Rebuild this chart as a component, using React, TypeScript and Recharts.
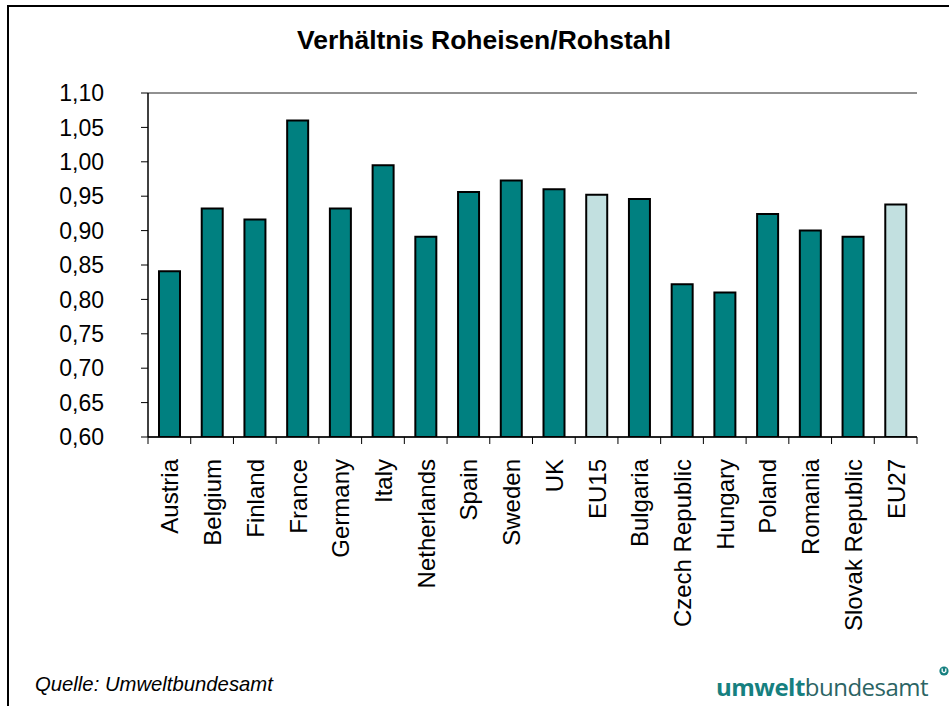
import React from "react";
import {
  BarChart, Bar, XAxis, YAxis, CartesianGrid, Cell,
} from "recharts";

const countries = [
  "Austria", "Belgium", "Finland", "France", "Germany", "Italy", "Netherlands",
  "Spain", "Sweden", "UK", "EU15", "Bulgaria", "Czech Republic", "Hungary",
  "Poland", "Romania", "Slovak Republic", "EU27",
];
const ratios = [
  0.841, 0.932, 0.916, 1.06, 0.932, 0.995, 0.891,
  0.956, 0.973, 0.96, 0.952, 0.946, 0.822, 0.81,
  0.924, 0.9, 0.891, 0.938,
];
const aggregates = ["EU15", "EU27"];
const yTicks = [0.6, 0.65, 0.7, 0.75, 0.8, 0.85, 0.9, 0.95, 1.0, 1.05, 1.1];

const data = countries.map((c, i) => ({ name: c, value: ratios[i] }));

const FONT = "'Liberation Sans', Arial, sans-serif";
const W = 949;
const H = 706;
const PLOT_LEFT = 148;
const PLOT_RIGHT = 917;
const PLOT_TOP = 93;
const PLOT_BOTTOM = 437;
const Y_AXIS_W = 80;
const X_AXIS_H = 230;
const halfBand = (PLOT_RIGHT - PLOT_LEFT) / countries.length / 2;

function CountryTick(props: any) {
  const { x, y, payload, index } = props;
  return (
    <g transform={`translate(${x},${y})`}>
      <line x1={-halfBand} y1={0} x2={-halfBand} y2={7} stroke="#000" strokeWidth={1} />
      {index === countries.length - 1 && (
        <line x1={halfBand} y1={0} x2={halfBand} y2={7} stroke="#000" strokeWidth={1} />
      )}
      <text
        transform="rotate(-90)"
        x={-22}
        y={9}
        textAnchor="end"
        fontFamily={FONT}
        fontSize={24}
        fill="#000"
      >
        {payload.value}
      </text>
    </g>
  );
}

export default function App() {
  return (
    <div style={{ position: "absolute", left: 0, top: 0, width: W, height: H, background: "#fff", overflow: "hidden" }}>
      <div
        style={{
          position: "absolute", left: 7, top: 5, width: W, height: H,
          borderLeft: "2px solid #000", borderTop: "2px solid #000",
        }}
      />
      <div
        style={{
          position: "absolute", left: 0, top: 25, width: 968, textAlign: "center",
          fontFamily: FONT, fontWeight: "bold", fontSize: 26.5, color: "#000",
        }}
      >
        Verhältnis Roheisen/Rohstahl
      </div>
      <div style={{ position: "absolute", left: 0, top: 0 }}>
        <BarChart
          width={W}
          height={H}
          data={data}
          barSize={21}
          margin={{
            top: PLOT_TOP,
            left: PLOT_LEFT - Y_AXIS_W,
            right: W - PLOT_RIGHT,
            bottom: H - PLOT_BOTTOM - X_AXIS_H,
          }}
        >
          <CartesianGrid vertical={false} stroke="#222" strokeWidth={1} />
          <XAxis
            dataKey="name"
            interval={0}
            height={X_AXIS_H}
            tickSize={0}
            tickMargin={0}
            tickLine={false}
            axisLine={{ stroke: "#000", strokeWidth: 1.5 }}
            tick={<CountryTick />}
          />
          <YAxis
            yAxisId="left"
            width={Y_AXIS_W}
            domain={[0.6, 1.1]}
            ticks={yTicks}
            interval={0}
            allowDataOverflow
            tickSize={7}
            tickMargin={37}
            tickFormatter={(v: number) => v.toFixed(2).replace(".", ",")}
            tick={{ fill: "#000", fontSize: 23, fontFamily: FONT }}
            tickLine={{ stroke: "#000" }}
            axisLine={{ stroke: "#000", strokeWidth: 1.5 }}
          />
          <YAxis
            yAxisId="right"
            orientation="right"
            width={0}
            domain={[0.6, 1.1]}
            ticks={yTicks}
            tick={false}
            tickLine={false}
            axisLine={{ stroke: "#000", strokeWidth: 1.5 }}
          />
          <Bar yAxisId="left" dataKey="value" stroke="#000" strokeWidth={2} isAnimationActive={false}>
            {data.map((d) => (
              <Cell key={d.name} fill={aggregates.includes(d.name) ? "#C2E0E0" : "#008080"} />
            ))}
          </Bar>
        </BarChart>
      </div>
      <div
        style={{
          position: "absolute", left: 35, top: 673, fontFamily: FONT,
          fontStyle: "italic", fontSize: 20.3, color: "#000",
        }}
      >
        Quelle: Umweltbundesamt
      </div>
      <div
        style={{
          position: "absolute", left: 716, top: 670, fontFamily: "'Open Sans', sans-serif",
          fontSize: 24, color: "#2b6464", letterSpacing: -0.5, whiteSpace: "nowrap",
        }}
      >
        <span style={{ fontWeight: 700, color: "#168080" }}>umwelt</span>
        <span>bundesamt</span>
      </div>
      <svg style={{ position: "absolute", left: 939, top: 666 }} width={10} height={10}>
        <circle cx={5} cy={5} r={4.6} fill="#168080" />
        <path d="M3.2 2.6 V5.4 Q5 7.6 6.8 5.4 V2.6" stroke="#fff" strokeWidth={1.3} fill="none" />
      </svg>
    </div>
  );
}
